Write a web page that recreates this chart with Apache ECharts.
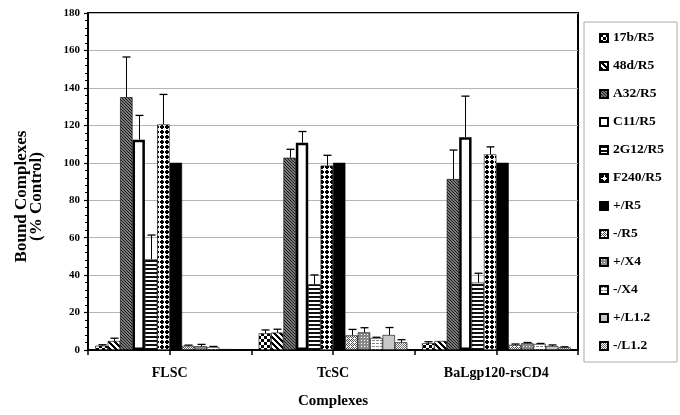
<!DOCTYPE html>
<html><head><meta charset="utf-8">
<script src="https://cdn.jsdelivr.net/npm/echarts@6/dist/echarts.min.js"></script>
<style>html,body{margin:0;padding:0;background:#fff}#c{width:680px;height:415px}</style>
</head><body><div id="c"></div>
<script>
const categories = ['FLSC', 'TcSC', 'BaLgp120-rsCD4'];
const seriesNames = ['17b/R5','48d/R5','A32/R5','C11/R5','2G12/R5','F240/R5','+/R5','-/R5','+/X4','-/X4','+/L1.2','-/L1.2'];
const yTicks = [0, 180, 20];
// values per series: [FLSC, TcSC, BaLgp120-rsCD4]
const v17b  = [2.3, 8.9, 3.6];
const v48d  = [4.8, 9.3, 4.8];
const vA32  = [135, 102.7, 91.3];
const vC11  = [112.3, 110.7, 113.6];
const v2G12 = [48.4, 35.1, 36.0];
const vF240 = [120.5, 98.5, 104.5];
const vPosR5 = [100, 100, 100];
const vNegR5 = [2.2, 7.8, 2.7];
const vPosX4 = [2.0, 9.4, 3.6];
const vNegX4 = [1.6, 6.4, 3.2];
const vPosL12 = [0.5, 8.0, 2.1];
const vNegL12 = [0.4, 4.1, 1.4];
// error (upper) per series
const e17b  = [0.5, 1.8, 0.8];
const e48d  = [1.5, 1.8, 0];
const eA32  = [21.5, 4.5, 15.5];
const eC11  = [13, 6, 22];
const e2G12 = [13, 5, 5];
const eF240 = [16, 5.5, 4];
const ePosR5 = [0, 0, 0];
const eNegR5 = [0.4, 3.2, 0.5];
const ePosX4 = [1.0, 2.5, 0.4];
const eNegX4 = [0.3, 0.4, 0.3];
const ePosL12 = [0, 4, 0.6];
const eNegL12 = [0, 1.4, 0.3];

const values = [v17b, v48d, vA32, vC11, v2G12, vF240, vPosR5, vNegR5, vPosX4, vNegX4, vPosL12, vNegL12];
const errors = [e17b, e48d, eA32, eC11, e2G12, eF240, ePosR5, eNegR5, ePosX4, eNegX4, ePosL12, eNegL12];

function tile(w, h, bg, draw) {
  const c = document.createElement('canvas');
  c.width = w; c.height = h;
  const g = c.getContext('2d');
  g.fillStyle = bg; g.fillRect(0, 0, w, h);
  draw(g);
  return { image: c, repeat: 'repeat' };
}
function px(g, col, pts) { g.fillStyle = col; pts.forEach(p => g.fillRect(p[0], p[1], p[2] || 1, p[3] || 1)); }

const fills = [
  tile(6, 6, '#fff', g => px(g, '#000', [[0,0,3,3],[3,3,3,3]])),
  tile(6, 6, '#fff', g => { for (let i = 0; i < 6; i++) { px(g, '#000', [[i, i, 1, 1], [(i+1)%6, i, 1, 1], [(i+2)%6, i, 1, 1]]); } }),
  tile(3, 3, '#7a7a7a', g => px(g, '#1a1a1a', [[0,0],[1,1],[2,2]])),
  '#ffffff',
  tile(2, 4, '#fff', g => px(g, '#111', [[0,0,2,2]])),
  tile(5, 5, '#fff', g => px(g, '#000', [[1,0,2,4],[0,1,4,2]])),
  '#000000',
  tile(4, 4, '#fff', g => px(g, '#555', [[0,0],[2,0],[1,1],[3,1],[0,2],[3,3],[1,3]])),
  tile(3, 3, '#8a8a8a', g => px(g, '#fff', [[1,1]])),
  tile(4, 3, '#fff', g => px(g, '#888', [[0,1,3,1]])),
  '#c8c8c8',
  tile(2, 2, '#fff', g => px(g, '#6a6a6a', [[0,0],[1,1]]))
];

const serif = '"Liberation Serif", "DejaVu Serif", serif';
const GAP = 0.09;

const series = seriesNames.map((name, i) => ({
  name, type: 'bar', xAxisIndex: 0, yAxisIndex: 0,
  data: values[i],
  barGap: '0%', barCategoryGap: (GAP * 100) + '%',
  itemStyle: { color: fills[i], borderColor: '#000', borderWidth: i === 3 ? 2.5 : 0.6 },
  emphasis: { disabled: true },
  animation: false
}));

const errData = [];
values.forEach((vals, s) => vals.forEach((v, c) => {
  if (errors[s][c] > 0) errData.push([c, v + errors[s][c], s, v]);
}));

series.push({
  type: 'custom', name: 'err', xAxisIndex: 0, yAxisIndex: 0,
  data: errData, encode: { x: 0, y: 1 }, z: 5, animation: false, silent: true,
  renderItem: function (params, api) {
    const c = api.value(0), top = api.value(1), s = api.value(2), v = api.value(3);
    const band = api.size([1, 0])[0];
    const bw = band * (1 - GAP) / seriesNames.length;
    const base = api.coord([c, v]);
    const tp = api.coord([c, top]);
    const x = Math.round(base[0] + (s - (seriesNames.length - 1) / 2) * bw) + 0.5;
    return {
      type: 'group', children: [
        { type: 'line', shape: { x1: x, y1: base[1], x2: x, y2: tp[1] }, style: { stroke: '#000', lineWidth: 1 } },
        { type: 'line', shape: { x1: x - 4, y1: tp[1], x2: x + 4, y2: tp[1] }, style: { stroke: '#000', lineWidth: 1.3 } }
      ]
    };
  }
});

const chart = echarts.init(document.getElementById('c'), null, { renderer: 'canvas' });
chart.setOption({
  animation: false,
  backgroundColor: '#fff',
  grid: { left: 88, right: 102, top: 13, bottom: 65, show: true, borderColor: '#000', borderWidth: 2, backgroundColor: 'transparent' },
  legend: {
    orient: 'vertical', left: 584, top: 22,
    data: seriesNames,
    icon: 'rect',
    itemWidth: 8, itemHeight: 8, itemGap: 14,
    padding: [9, 13, 9, 15],
    borderColor: '#aaa', borderWidth: 1,
    textStyle: { fontFamily: serif, fontWeight: 'bold', fontSize: 13.5, color: '#000' },
    selectedMode: false
  },
  xAxis: [{
    type: 'category', data: categories, position: 'bottom',
    name: 'Complexes', nameLocation: 'middle', nameGap: 44,
    nameTextStyle: { fontFamily: serif, fontWeight: 'bold', fontSize: 15, color: '#000' },
    axisLine: { lineStyle: { color: '#000', width: 2 } },
    axisTick: { show: true, alignWithLabel: true, length: 5, lineStyle: { color: '#000', width: 1.5 } },
    axisLabel: { fontFamily: serif, fontWeight: 'bold', fontSize: 14, color: '#000', margin: 16 },
    splitLine: { show: false }
  }, {
    type: 'category', data: categories, position: 'bottom', gridIndex: 0, offset: 0,
    axisLine: { show: false },
    axisTick: { show: true, length: 5, lineStyle: { color: '#000', width: 1.5 } },
    axisLabel: { show: false }, splitLine: { show: false }
  }],
  yAxis: {
    type: 'value', min: yTicks[0], max: yTicks[1], interval: yTicks[2],
    name: 'Bound Complexes\n(% Control)', nameLocation: 'middle', nameGap: 44, nameRotate: 90,
    nameTextStyle: { fontFamily: serif, fontWeight: 'bold', fontSize: 17, color: '#000', lineHeight: 15, padding: [0, 30, 0, 0] },
    axisLine: { show: true, lineStyle: { color: '#000', width: 2 } },
    axisTick: { show: true, length: 4, lineStyle: { color: '#000', width: 1.2 } },
    minorTick: { show: true, splitNumber: 5, length: 3, lineStyle: { color: '#000', width: 1 } },
    axisLabel: { fontFamily: serif, fontWeight: 'bold', fontSize: 11, color: '#000', margin: 8 },
    splitLine: { show: true, lineStyle: { color: '#b5b5b5', width: 1 } }
  },
  series
});
</script></body></html>
